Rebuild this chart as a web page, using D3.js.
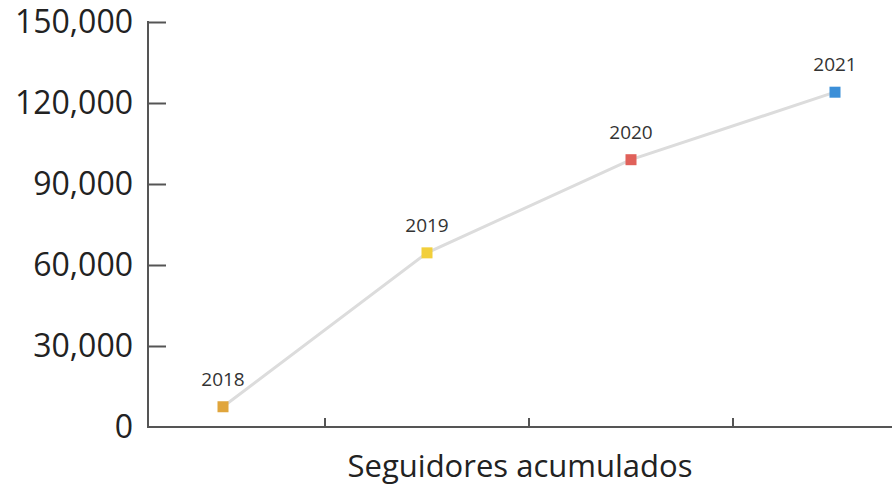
<!DOCTYPE html>
<html>
<head>
<meta charset="utf-8">
<script src="https://cdn.jsdelivr.net/npm/d3@7"></script>
<style>
  body { margin: 0; background: #fff; }
  text { font-family: "Open Sans", sans-serif; }
</style>
</head>
<body>
<div class="chart"></div>
<script>
// data
var years = ["2018", "2019", "2020", "2021"];
var followers = [7500, 64500, 99000, 124000];
var pointColors = ["#e0a53c", "#f2cf3b", "#e0615a", "#3b8fd8"];
var yTicks = [0, 30000, 60000, 90000, 120000, 150000];
var xTitle = "Seguidores acumulados";

var width = 892, height = 485;

var svg = d3.select(".chart").append("svg")
        .attr("width", width)
        .attr("height", height);

var y = d3.scaleLinear()
        .domain([0, 150000])
        .range([427, 22]);

// bands so that the point sits in the middle and ticks fall between
var x = d3.scaleBand()
        .domain(years)
        .range([121, 937]);

var axisColor = "#555";

// y axis, ticks pointing inward
var yAxis = d3.axisRight(y)
        .tickValues(yTicks)
        .tickSize(18)
        .tickFormat(d3.format(","));
var gy = svg.append("g")
        .attr("transform", "translate(148,0)")
        .call(yAxis);
gy.select(".domain").remove();
gy.selectAll(".tick line")
        .attr("stroke", axisColor)
        .attr("stroke-width", 2)
        .filter(function (d) { return d === 0; }).remove();
gy.selectAll(".tick text")
        .attr("x", -15)
        .attr("text-anchor", "end")
        .attr("fill", "#222")
        .style("font-size", "32px")
        .style("font-family", "'Open Sans', sans-serif");
svg.append("line")
        .attr("x1", 148).attr("x2", 148)
        .attr("y1", y(150000) - 1).attr("y2", y(0) + 1)
        .attr("stroke", axisColor)
        .attr("stroke-width", 2);

// x axis line and ticks between categories
svg.append("line")
        .attr("x1", 147).attr("x2", width)
        .attr("y1", y(0)).attr("y2", y(0))
        .attr("stroke", axisColor)
        .attr("stroke-width", 2);
svg.selectAll(".xtick")
        .data(years.slice(1))
        .enter()
        .append("line")
        .attr("class", "xtick")
        .attr("x1", function (d) { return x(d); })
        .attr("x2", function (d) { return x(d); })
        .attr("y1", y(0))
        .attr("y2", y(0) - 9)
        .attr("stroke", axisColor)
        .attr("stroke-width", 2);

svg.append("text")
        .attr("x", (148 + width) / 2)
        .attr("y", 477)
        .attr("text-anchor", "middle")
        .attr("fill", "#222")
        .style("font-size", "31px")
        .text(xTitle);

// connecting line
var line = d3.line()
        .x(function (d, i) { return x(years[i]) + x.bandwidth() / 2; })
        .y(function (d) { return y(d); });
svg.append("path")
        .datum(followers)
        .attr("d", line)
        .attr("fill", "none")
        .attr("stroke", "#dcdcdc")
        .attr("stroke-width", 3);

var sq = 11;
svg.selectAll("rect.pt")
        .data(followers)
        .enter()
        .append("rect")
        .attr("class", "pt")
        .attr("x", function (d, i) { return x(years[i]) + x.bandwidth() / 2 - sq / 2; })
        .attr("y", function (d) { return y(d) - sq / 2; })
        .attr("width", sq)
        .attr("height", sq)
        .attr("fill", function (d, i) { return pointColors[i]; });

svg.selectAll("text.yr")
        .data(followers)
        .enter()
        .append("text")
        .attr("class", "yr")
        .attr("x", function (d, i) { return x(years[i]) + x.bandwidth() / 2; })
        .attr("y", function (d) { return y(d) - 21; })
        .attr("text-anchor", "middle")
        .attr("fill", "#333")
        .style("font-size", "19px")
        .text(function (d, i) { return years[i]; });
</script>
</body>
</html>
